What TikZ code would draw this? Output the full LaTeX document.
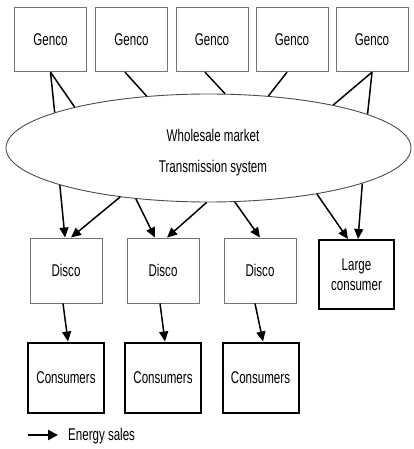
\documentclass[tikz,border=0pt]{standalone}
\usepackage{fontspec}
\setmainfont[FakeStretch=0.68]{Liberation Sans}
\usetikzlibrary{shapes.geometric,arrows.meta}
\begin{document}
\begin{tikzpicture}[x=1pt,y=-1pt,
  every node/.style={font=\fontsize{17}{20}\selectfont, inner sep=0pt},
  thinbox/.style={draw=black!55, line width=0.9pt, fill=white, minimum width=72pt, minimum height=64pt},
  thickbox/.style={draw=black, line width=2pt, fill=white, minimum width=76pt, minimum height=70pt, align=center},
  market/.style={draw=black!70, line width=0.9pt, ellipse, minimum width=405pt, minimum height=108pt},
  conn/.style={line width=1.5pt, black},
  arr/.style={conn, -{Triangle[length=10pt,width=9pt]}}]
\useasboundingbox (0,0) rectangle (413,449);

% generating companies
\node[thinbox] (g1) at (50.5,39.75) {Genco};
\node[thinbox] (g2) at (131.5,39.75) {Genco};
\node[thinbox] (g3) at (212,39.75) {Genco};
\node[thinbox] (g4) at (292,39.75) {Genco};
\node[thinbox] (g5) at (372,39.75) {Genco};

% market and network
\node[market] (wm) at (208.5,148) {};
\node (t1) at (213,135) {Wholesale market};
\node (t2) at (213,168) {Transmission system};

% distribution companies and large consumer
\node[thinbox, minimum height=65pt] (d1) at (66,270.5) {Disco};
\node[thinbox, minimum height=65pt] (d2) at (163,270.5) {Disco};
\node[thinbox, minimum height=65pt] (d3) at (260,270.5) {Disco};
\node[thickbox, minimum width=75pt, minimum height=69pt] (lc) at (356.5,274.5) {Large\\consumer};

% consumers
\node[thickbox] (c1) at (66,377.5) {Consumers};
\node[thickbox] (c2) at (163,377.5) {Consumers};
\node[thickbox] (c3) at (260.5,377.5) {Consumers};

% gencos feed the market
\draw[conn] (g1.south) -- (wm.167.5);
\draw[conn] (g1.south) -- (wm.163.5);
\draw[conn] ([xshift=-6.5pt]g2.south) -- (wm.140);
\draw[conn] ([xshift=-7pt]g3.south) -- (wm.73);
\draw[conn] ([xshift=-5pt]g4.south) -- (wm.41);
\draw[conn] (g5.south) -- (wm.19);
\draw[conn] (g5.south) -- (wm.12);

% energy sales out of the market
\draw[arr] (wm.194.3) -- ([xshift=-1pt]d1.north);
\draw[arr] (wm.209.4) -- ([xshift=5pt]d1.north);
\draw[arr] (wm.215.2) -- ([xshift=-8pt]d2.north);
\draw[arr] (wm.268.4) -- ([xshift=4pt]d2.north);
\draw[arr] (wm.296.4) -- (d3.north);
\draw[arr] (wm.337.5) -- ([xshift=-8.5pt]lc.north);
\draw[arr] (wm.347.3) -- ([xshift=1.5pt]lc.north);

% discos to consumers
\draw[arr] ([xshift=-3pt]d1.south) -- ([xshift=2pt]c1.north);
\draw[arr] ([xshift=-3pt]d2.south) -- ([xshift=2pt]c2.north);
\draw[arr] ([xshift=-5pt]d3.south) -- ([xshift=2.5pt]c3.north);

% legend
\coordinate (la) at (28,435);
\coordinate (lb) at (58,435);
\draw[line width=2.4pt, -{Triangle[length=10pt,width=10pt]}] (la) -- (lb);
\node[anchor=west] (leg) at (68,436) {Energy sales};
\end{tikzpicture}
\end{document}
